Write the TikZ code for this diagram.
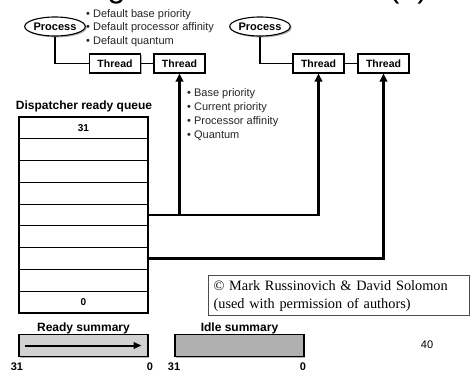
\documentclass[tikz,border=0pt]{standalone}
\usepackage{fontspec}
\setmainfont{Liberation Sans}
\newfontfamily\crfont{Liberation Serif}
\usetikzlibrary{arrows.meta,shapes.geometric,shadows}
\begin{document}
\begin{tikzpicture}[x=1pt,y=-1pt,
  shd/.style={drop shadow={shadow xshift=1.4pt,shadow yshift=-1.4pt,fill=black!30,opacity=1}},
  proc/.style={ellipse,draw,line width=1.1pt,minimum width=60pt,minimum height=19pt,inner sep=0pt,
    font=\bfseries\fontsize{11}{12}\selectfont,fill=white,shd},
  thr/.style={rectangle,draw,line width=1.1pt,minimum width=51pt,minimum height=19pt,inner sep=0pt,
    font=\bfseries\fontsize{10.5}{12}\selectfont,fill=white,shd},
  thinline/.style={line width=1.1pt},
  heavyarrow/.style={line width=2.6pt,-{Triangle[length=8pt,width=7.5pt]}},
  qrow/.style={rectangle,draw,line width=1.1pt,minimum width=129pt,minimum height=21.78pt,inner sep=0pt,
    font=\bfseries\fontsize{10}{12}\selectfont},
  lbl/.style={font=\bfseries\fontsize{12}{14}\selectfont,inner sep=0pt},
  bul/.style={align=left,font=\fontsize{11}{13.8}\selectfont,inner sep=0pt,text=black!85},
  sumbox/.style={rectangle,draw,line width=1.1pt,minimum width=129pt,minimum height=22.5pt,inner sep=0pt,shd},
  num/.style={font=\bfseries\fontsize{11}{12}\selectfont,inner sep=0pt,anchor=base},
]
\fill[white] (0,0) rectangle (470,369);
\useasboundingbox (0,0) rectangle (470,369);
\clip (0,0) rectangle (470,369);

% clipped title remnants
\node[font=\fontsize{32}{32}\selectfont,anchor=base,inner sep=0pt] (tg) at (116.5,-2.5) {g};
\node[font=\fontsize{32}{32}\selectfont,anchor=base,inner sep=0pt] (ta) at (408.5,-2.5) {(a)};

% processes and threads
\node[proc] (p1) at (55,26.5) {Process};
\node[proc] (p2) at (260,26.5) {Process};
\node[thr] (t1) at (115,63.5) {Thread};
\node[thr] (t2) at (179.5,63.5) {Thread};
\node[thr] (t3) at (318.5,63.5) {Thread};
\node[thr] (t4) at (383.5,63.5) {Thread};

\node[bul,anchor=west] (b1) at (86,28) {• Default base priority\\• Default processor affinity\\• Default quantum};
\node[bul,anchor=north west] (b2) at (187,88.5) {• Base priority\\• Current priority\\• Processor affinity\\• Quantum};

\draw[thinline] (p1.south) |- (t1.west);
\draw[thinline] (t1.east) -- (t2.west);
\draw[thinline] (p2.south) |- (t3.west);
\draw[thinline] (t3.east) -- (t4.west);

% dispatcher ready queue
\node[lbl] (dq) at (84,106) {Dispatcher ready queue};
\foreach \i in {1,...,9} {
  \node[qrow] (r\i) at (83.5,{117+21.78*(\i-0.5)}) {};
}
\node[font=\bfseries\fontsize{10}{12}\selectfont,inner sep=0pt] (n31) at (r1) {31};
\node[font=\bfseries\fontsize{10}{12}\selectfont,inner sep=0pt] (n0) at (r9) {0};

% ready-queue connectors
\draw[heavyarrow] (r5.east) -| (t3.south);
\coordinate (j1) at (r5.east -| t2.south);
\draw[heavyarrow] (j1) -- (t2.south);
\draw[heavyarrow] (r7.east) -| (t4.south);

% copyright box
\node[draw=black!70,line width=1.2pt,anchor=north west,minimum width=261pt,minimum height=40pt,
  text width=251pt,inner xsep=5pt,inner ysep=0pt,align=left,
  font=\crfont\fontsize{14.3}{18}\selectfont] (cr) at (208,275)
  {© Mark Russinovich \& David Solomon\\(used with permission of authors)};

% summaries
\node[lbl] (rl) at (83.5,328) {Ready summary};
\node[sumbox,fill=black!18] (rs) at (83.5,345.5) {};
\draw[line width=2pt,-{Triangle[length=8pt,width=6.5pt]}] ([xshift=7pt]rs.west) -- ([xshift=-7pt]rs.east);
\node[lbl] (il) at (239.5,328) {Idle summary};
\node[sumbox,fill=black!31] (is) at (239.5,345.5) {};

\node[num] (a31) at (17,370) {31};
\node[num] (a0) at (150,370) {0};
\node[num] (b31) at (174,370) {31};
\node[num] (b0) at (303,370) {0};

\node[font=\fontsize{11}{12}\selectfont,inner sep=0pt] (pg) at (427,345) {40};
\end{tikzpicture}
\end{document}
